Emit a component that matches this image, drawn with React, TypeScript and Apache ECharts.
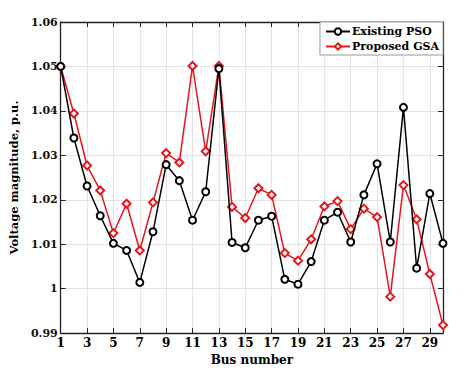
import React, { useEffect, useRef } from 'react';
import * as echarts from 'echarts';

const buses = ['1','2','3','4','5','6','7','8','9','10','11','12','13','14','15','16','17','18','19','20','21','22','23','24','25','26','27','28','29','30'];
const psoValues = [1.050, 1.0339, 1.0231, 1.0164, 1.0102, 1.0086, 1.0014, 1.0128, 1.0279, 1.0243, 1.0154, 1.0218, 1.0495, 1.0104, 1.0092, 1.0154, 1.0163, 1.0021, 1.0010, 1.0061, 1.0154, 1.0172, 1.0105, 1.0211, 1.0281, 1.0105, 1.0408, 1.0046, 1.0214, 1.0102];
const gsaValues = [1.050, 1.0394, 1.0277, 1.0221, 1.0125, 1.0191, 1.0086, 1.0194, 1.0305, 1.0284, 1.0501, 1.0309, 1.0501, 1.0184, 1.0159, 1.0226, 1.0211, 1.0080, 1.0063, 1.0111, 1.0185, 1.0197, 1.0134, 1.0180, 1.0161, 0.9982, 1.0233, 1.0156, 1.0033, 0.9918];
const seriesNames = ['Existing PSO', 'Proposed GSA'];
const yMin = 0.99;
const yMax = 1.06;
const yStep = 0.01;

const serif = 'DejaVu Serif';

export default function App() {
  const ref = useRef<HTMLDivElement>(null);
  useEffect(() => {
    document.body.style.margin = '0';
    if (!ref.current) return;
    const chart = echarts.init(ref.current, null, { renderer: 'svg' });
    const axisLineStyle = { color: '#222', width: 1.3 };
    const grid = { left: 60, right: 24, top: 22, bottom: 34 };
    chart.setOption({
      animation: false,
      backgroundColor: '#fff',
      grid,
      legend: {
        data: seriesNames,
        orient: 'vertical',
        right: 24,
        top: 22,
        backgroundColor: '#fff',
        borderColor: '#999',
        borderWidth: 1,
        padding: [4, 4, 3, 5],
        itemGap: 4,
        itemWidth: 24,
        itemHeight: 8,
        textStyle: { fontFamily: serif, fontWeight: 'bold', fontSize: 11, color: '#000', padding: [0, 0, 0, -3] },
      },
      xAxis: [
        {
          type: 'category',
          data: buses,
          boundaryGap: false,
          name: 'Bus number',
          nameLocation: 'middle',
          nameGap: 20,
          nameTextStyle: { fontFamily: serif, fontWeight: 'bold', fontSize: 12, color: '#000' },
          axisLine: { lineStyle: axisLineStyle },
          axisTick: { inside: true, interval: 1, length: 5, lineStyle: { color: '#222' } },
          axisLabel: { interval: 1, fontFamily: serif, fontWeight: 'bold', fontSize: 12, color: '#000', margin: 4 },
          splitLine: { show: true, interval: 1, lineStyle: { color: '#e4e4e4', width: 1 } },
        },
        {
          type: 'category',
          data: buses,
          boundaryGap: false,
          position: 'top',
          axisLine: { lineStyle: axisLineStyle },
          axisTick: { inside: true, interval: 1, length: 5, lineStyle: { color: '#222' } },
          axisLabel: { show: false },
          splitLine: { show: false },
        },
      ],
      yAxis: [
        {
          type: 'value',
          min: yMin,
          max: yMax,
          interval: yStep,
          name: 'Voltage magnitude, p.u.',
          nameLocation: 'middle',
          nameGap: 25,
          nameTextStyle: { fontFamily: serif, fontWeight: 'bold', fontSize: 11.5, color: '#000' },
          axisLine: { show: true, lineStyle: axisLineStyle },
          axisTick: { show: true, inside: true, length: 5, lineStyle: { color: '#222' } },
          axisLabel: {
            fontFamily: serif,
            fontWeight: 'bold',
            fontSize: 11,
            color: '#111',
            margin: 3,
            formatter: (v: number) => String(parseFloat(v.toFixed(2))),
          },
          splitLine: { show: true, lineStyle: { color: '#e4e4e4', width: 1 } },
        },
        {
          type: 'value',
          min: yMin,
          max: yMax,
          interval: yStep,
          position: 'right',
          axisLine: { show: true, lineStyle: axisLineStyle },
          axisTick: { show: true, inside: true, length: 5, lineStyle: { color: '#222' } },
          axisLabel: { show: false },
          splitLine: { show: false },
        },
      ],
      series: [
        {
          name: seriesNames[0],
          type: 'line',
          data: psoValues,
          symbol: 'emptyCircle',
          symbolSize: 7,
          showAllSymbol: true,
          z: 3,
          lineStyle: { color: '#000', width: 1.5 },
          itemStyle: { color: '#000', borderColor: '#000', borderWidth: 1.5 },
        },
        {
          name: seriesNames[1],
          type: 'line',
          data: gsaValues,
          symbol: 'emptyDiamond',
          symbolSize: 8,
          showAllSymbol: true,
          z: 2,
          lineStyle: { color: '#e8161c', width: 1.5 },
          itemStyle: { color: '#e8161c', borderColor: '#e8161c', borderWidth: 1.5 },
        },
      ],
    });
    return () => chart.dispose();
  }, []);
  return <div ref={ref} style={{ width: 467, height: 371 }} />;
}
